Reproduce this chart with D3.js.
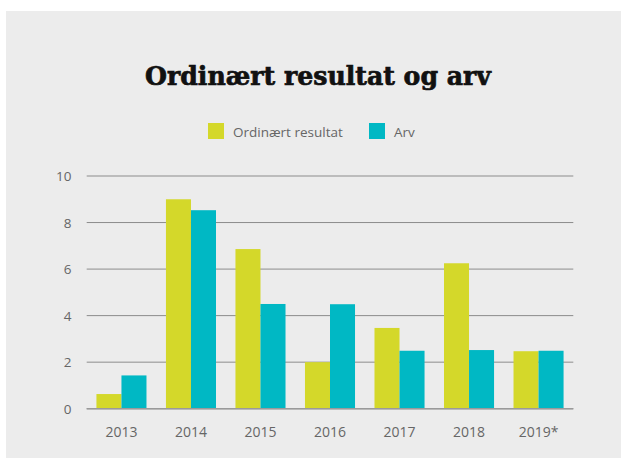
<!DOCTYPE html>
<html>
<head>
<meta charset="utf-8">
<script src="https://cdn.jsdelivr.net/npm/d3@7"></script>
<style>
  body { margin: 0; background: #fff; }
  svg { display: block; }
</style>
</head>
<body>
<div id="viz"></div>
<script>
const years = ["2013", "2014", "2015", "2016", "2017", "2018", "2019*"];
const ordinaert = [0.63, 9.0, 6.86, 2.0, 3.47, 6.25, 2.47];
const arv = [1.43, 8.53, 4.5, 4.49, 2.49, 2.52, 2.49];
const seriesNames = ["Ordinært resultat", "Arv"];
const yTicks = [0, 2, 4, 6, 8, 10];

const colors = ["#d4d82a", "#00b8c4"];
const width = 621, height = 458;

const svg = d3.select("#viz").append("svg")
    .attr("width", width)
    .attr("height", height);

svg.append("rect")
    .attr("x", 6).attr("y", 11)
    .attr("width", width - 6).attr("height", height - 11)
    .attr("fill", "#ececec");

// title, squeezed to the width it has in the original
svg.append("text")
    .attr("x", 318).attr("y", 84.5)
    .style("text-anchor", "middle")
    .style("font-family", "'DejaVu Serif', serif")
    .style("font-weight", 700)
    .style("font-size", "25.5px")
    .style("fill", "#111")
    .style("stroke", "#111")
    .style("stroke-width", 0.7)
    .attr("textLength", 346)
    .attr("lengthAdjust", "spacingAndGlyphs")
    .text("Ordinært resultat og arv");

// legend
const legendX = [208, 369];
const gLegend = svg.selectAll(".legend")
    .data(seriesNames)
    .join("g")
        .attr("class", "legend")
        .attr("transform", (d, i) => `translate(${legendX[i]},123)`);

gLegend.append("rect")
    .attr("width", 16).attr("height", 16)
    .attr("fill", (d, i) => colors[i]);

gLegend.append("text")
    .attr("x", 25).attr("y", 13.5)
    .style("font-family", "'Open Sans', sans-serif")
    .style("font-size", "13.5px")
    .style("fill", "#666")
    .text(d => d);

// scales
const margin = { left: 86.7, right: 621 - 573.3 };
const y = d3.scaleLinear().domain([0, 10]).range([408.7, 176]);

const x = d3.scaleBand()
    .domain(years)
    .range([margin.left, width - margin.right])
    .paddingInner(0.28)
    .paddingOuter(0.14);

const xSub = d3.scaleBand()
    .domain(seriesNames)
    .range([0, x.bandwidth()]);

// grid
svg.selectAll(".grid")
    .data(yTicks)
    .join("line")
        .attr("class", "grid")
        .attr("x1", margin.left)
        .attr("x2", width - margin.right)
        .attr("y1", d => y(d))
        .attr("y2", d => y(d))
        .attr("stroke", "#8c8c8c")
        .attr("stroke-width", 1);

svg.selectAll(".y-label")
    .data(yTicks)
    .join("text")
        .attr("class", "y-label")
        .attr("x", 71.5)
        .attr("y", d => y(d) + 5)
        .style("text-anchor", "end")
        .style("font-family", "'Open Sans', sans-serif")
        .style("font-size", "13.5px")
        .style("fill", "#666")
        .text(d => d);

// bars
const rows = years.map((yr, i) => ({ year: yr, values: [ordinaert[i], arv[i]] }));

const gYear = svg.selectAll(".year")
    .data(rows)
    .join("g")
        .attr("class", "year")
        .attr("transform", d => `translate(${x(d.year)},0)`);

gYear.selectAll("rect")
    .data(d => d.values.map((v, i) => ({ name: seriesNames[i], value: v, i })))
    .join("rect")
        .attr("x", d => xSub(d.name))
        .attr("y", d => y(d.value))
        .attr("width", xSub.bandwidth())
        .attr("height", d => y(0) - y(d.value))
        .attr("fill", d => colors[d.i]);

// zero line on top of the bars
svg.append("line")
    .attr("x1", margin.left).attr("x2", width - margin.right)
    .attr("y1", y(0)).attr("y2", y(0))
    .attr("stroke", "#9a9a9a").attr("stroke-width", 1.6);

svg.selectAll(".x-label")
    .data(years)
    .join("text")
        .attr("class", "x-label")
        .attr("x", d => x(d) + x.bandwidth() / 2)
        .attr("y", 436.5)
        .style("text-anchor", "middle")
        .style("font-family", "'Open Sans', sans-serif")
        .style("font-size", "14px")
        .style("fill", "#666")
        .text(d => d);
</script>
</body>
</html>
